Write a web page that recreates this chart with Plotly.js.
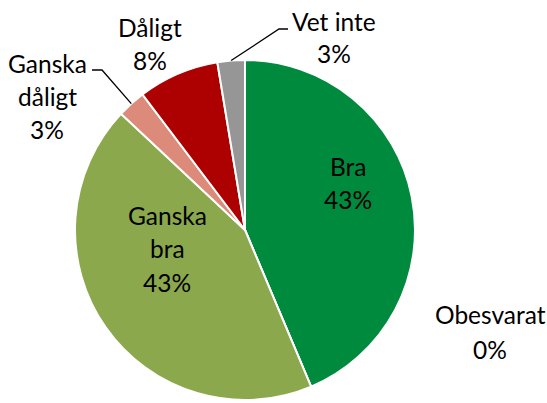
<!DOCTYPE html>
<html>
<head>
<meta charset="utf-8">
<script src="https://cdn.plot.ly/plotly-3.0.1.min.js"></script>
<style>html,body{margin:0;padding:0;background:#fff;}#chart{width:547px;height:403px;}</style>
</head>
<body>
<div id="chart"></div>
<script>
// Data
const categories = ["Bra", "Obesvarat", "Ganska bra", "Ganska dåligt", "Dåligt", "Vet inte"];
const values = [43.6, 0, 43.3, 2.7, 7.7, 2.6];
const percentLabels = ["43%", "0%", "43%", "3%", "8%", "3%"];
const colors = ["#008A3E", "#FFFFFF", "#8BA84C", "#DC8B7B", "#AD0000", "#969696"];

// Geometry (pixels)
const W = 547, H = 403;
const cx = 245, cy = 230, R = 170;
const px = x => x / W;
const py = y => 1 - y / H;

const FONT = {family: "Lato, 'Open Sans', sans-serif", size: 24.5, color: "#000"};

// label layout: lines and centre positions (pixels) for each category
const labelLines = {
  "Bra": {x: 348, lines: ["Bra"], y0: 166},
  "Obesvarat": {x: 490, lines: ["Obesvarat"], y0: 314},
  "Ganska bra": {x: 167, lines: ["Ganska", "bra"], y0: 216},
  "Ganska dåligt": {x: 47, lines: ["Ganska", "dåligt"], y0: 63},
  "Dåligt": {x: 150, lines: ["Dåligt"], y0: 28},
  "Vet inte": {x: 334, lines: ["Vet inte"], y0: 21}
};
const LINE_GAP = 33;

const annotations = [];
categories.forEach((c, i) => {
  const L = labelLines[c];
  const all = L.lines.concat([percentLabels[i]]);
  all.forEach((t, k) => {
    annotations.push({
      text: t, xref: "paper", yref: "paper",
      x: px(L.x), y: py(L.y0 + k * (c === "Obesvarat" ? 35 : LINE_GAP)),
      xanchor: "center", yanchor: "middle", showarrow: false, font: FONT
    });
  });
});

// leader lines computed from slice mid-angles
const total = values.reduce((a, b) => a + b, 0);
function midPoint(idx) {
  let start = 0;
  for (let i = 0; i < idx; i++) start += values[i];
  const mid = (start + values[idx] / 2) / total * 2 * Math.PI; // clockwise from top
  return [cx + R * Math.sin(mid), cy - R * Math.cos(mid)];
}
const shapes = [];
function leader(points) {
  let d = "";
  points.forEach((p, k) => { d += (k ? " L " : "M ") + px(p[0]) + "," + py(p[1]); });
  shapes.push({type: "path", xref: "paper", yref: "paper", path: d, line: {color: "#000", width: 1.3}});
}
const vi = midPoint(categories.indexOf("Vet inte"));
leader([vi, [279, 29], [288, 29]]);
const gd = midPoint(categories.indexOf("Ganska dåligt"));
leader([gd, [102, 70], [92, 70]]);

const trace = {
  type: "pie",
  labels: categories,
  values: values,
  sort: false,
  direction: "clockwise",
  rotation: 0,
  textinfo: "none",
  hoverinfo: "none",
  marker: {colors: colors, line: {color: "#FFFFFF", width: 2}},
  domain: {x: [px(cx - R), px(cx + R)], y: [py(cy + R), py(cy - R)]},
  showlegend: false
};

const layout = {
  width: W, height: H,
  margin: {l: 0, r: 0, t: 0, b: 0},
  paper_bgcolor: "#fff",
  showlegend: false,
  annotations: annotations,
  shapes: shapes
};

Plotly.newPlot("chart", [trace], layout, {staticPlot: true, displayModeBar: false});
</script>
</body>
</html>
